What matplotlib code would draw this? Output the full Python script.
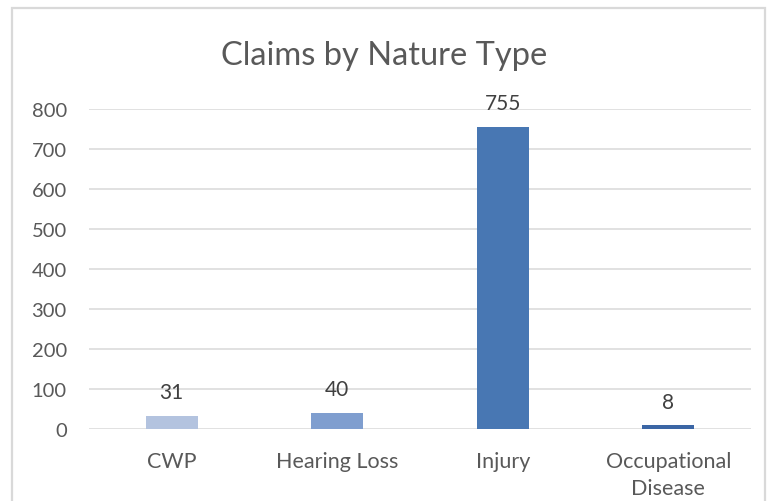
import matplotlib
matplotlib.use("Agg")
import matplotlib.pyplot as plt
from matplotlib.patches import Rectangle

categories = ["CWP", "Hearing Loss", "Injury", "Occupational\nDisease"]
values = [31, 40, 755, 8]
bar_colors = ["#B3C3DF", "#7F9ECF", "#4877B3", "#3B66A5"]
yticks = [0, 100, 200, 300, 400, 500, 600, 700, 800]
title = "Claims by Nature Type"

plt.rcParams['font.family'] = ['Lato', 'DejaVu Sans']
W, H = 768, 502
fig = plt.figure(figsize=(W / 100, H / 100), dpi=100)
fig.patch.set_facecolor("white")

# outer chart border (cut off at bottom)
fig.patches.append(Rectangle((12 / W, -0.05), (765 - 12) / W, (H - 9) / H + 0.05,
                             transform=fig.transFigure, fill=False,
                             edgecolor="#D9D9D9", linewidth=1.6))

ax = fig.add_axes([89 / W, (H - 429.6) / H, (751 - 89) / W, (429.6 - 109.6) / H])
x = range(len(categories))
bars = ax.bar(x, values, width=0.314, color=bar_colors, zorder=3)
ax.set_xlim(-0.5, 3.5)
ax.set_ylim(0, 800)
ax.set_yticks(yticks)
ax.set_yticklabels([str(t) for t in yticks], fontsize=14.5)
ax.set_xticks(list(x))
ax.set_xticklabels(categories, linespacing=1.42, fontsize=15.5)
ax.grid(axis="y", color="#D9D9D9", linewidth=1.1, zorder=0)
for s in ax.spines.values():
    s.set_visible(False)
ax.tick_params(axis="both", length=0, colors="#595959")
ax.tick_params(axis="y", pad=16)
ax.tick_params(axis="x", pad=16)

for b, v in zip(bars, values):
    ax.annotate(str(v), (b.get_x() + b.get_width() / 2, v), xytext=(0, 10),
                textcoords="offset points", ha="center", va="bottom",
                fontsize=15, color="#404040")

fig.text(0.5, (H - 65) / H, title, ha="center", va="baseline",
         fontsize=23.5, color="#595959")

fig.savefig("out.png", dpi=100, facecolor="white")
